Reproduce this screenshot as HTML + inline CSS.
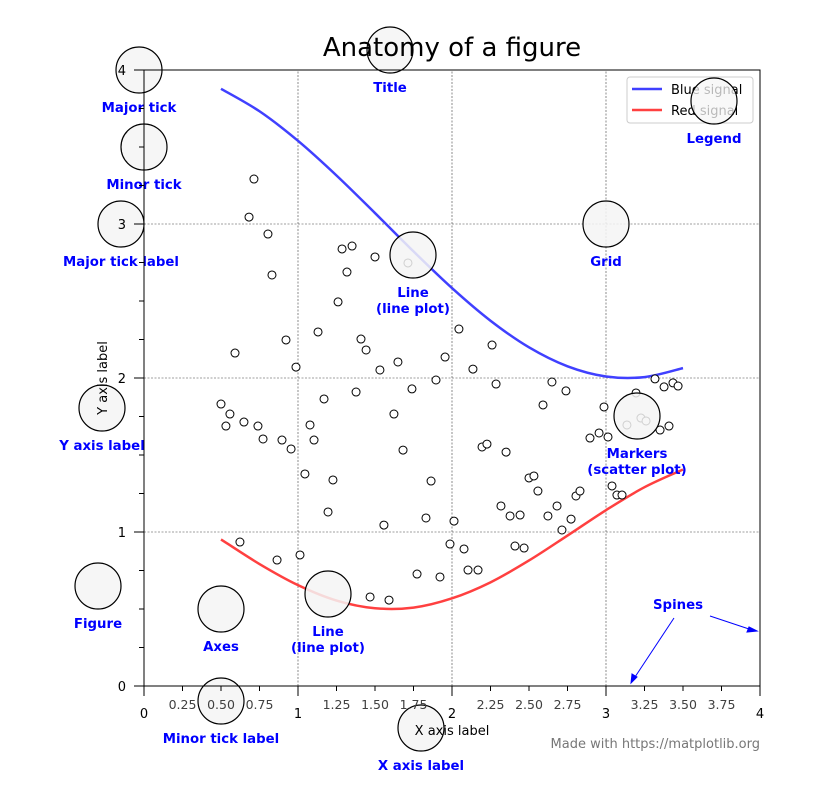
<!DOCTYPE html>
<html><head><meta charset="utf-8"><style>
body{margin:0;background:#fff;}
svg{display:block;font-family:"DejaVu Sans","Liberation Sans",sans-serif;}
.ann{fill:#0000ff;font-weight:bold;font-size:13.3px;text-anchor:middle;}
</style></head><body>
<svg id="fig" width="826" height="796" viewBox="0 0 826 796">
<rect width="826" height="796" fill="#fff"/>
<g id="grid"></g>
<g id="plot"></g>
<g id="anns"></g>
<g id="axes"></g>
<g id="legend">
 <rect x="627" y="77" width="126" height="46" rx="3" fill="#fff" fill-opacity="0.8" stroke="#ccc"/>
 <line x1="632" y1="89" x2="662" y2="89" stroke="#4040ff" stroke-width="2.5"/>
 <text x="671" y="94" font-size="13">Blue signal</text>
 <line x1="632" y1="110" x2="662" y2="110" stroke="#ff4040" stroke-width="2.5"/>
 <text x="671" y="115" font-size="13">Red signal</text>
</g>
<circle cx="714" cy="101" r="23" fill="#f5f5f5" fill-opacity="0.75" stroke="#000" stroke-width="1.2"/>
<text x="452" y="56" font-size="26" text-anchor="middle">Anatomy of a figure</text>
<text x="452" y="735" font-size="13" text-anchor="middle">X axis label</text>
<text x="0" y="0" font-size="13" text-anchor="middle" transform="translate(107,378) rotate(-90)">Y axis label</text>
<text x="760" y="748" font-size="13" fill="#777" text-anchor="end">Made with https://matplotlib.org</text>
<g stroke="#0000ff" fill="#0000ff">
 <line x1="674" y1="618" x2="633" y2="680"/><path d="M631,683 l1,-9 l5,3 z"/>
 <line x1="710" y1="616" x2="755" y2="631"/><path d="M757,631 l-8,-4 l-2,5 z"/>
</g>
</svg>
<script>
const xTicks=[0,1,2,3,4];
const xMinor=[0.25,0.5,0.75,1.25,1.5,1.75,2.25,2.5,2.75,3.25,3.5,3.75];
const xMinorLabels=["0.25","0.50","0.75","1.25","1.50","1.75","2.25","2.50","2.75","3.25","3.50","3.75"];
const yTicks=[0,1,2,3,4];
const yMinor=[0.25,0.5,0.75,1.25,1.5,1.75,2.25,2.5,2.75,3.25,3.5,3.75];
const lineX=[0.5,0.75,1.0,1.25,1.5,1.75,2.0,2.25,2.5,2.75,3.0,3.25,3.5];
const blueY=[3.878,3.732,3.540,3.315,3.071,2.822,2.584,2.372,2.199,2.076,2.010,2.006,2.064];
const redY=[0.952,0.792,0.655,0.555,0.505,0.509,0.569,0.673,0.815,0.977,1.142,1.291,1.406];
const scatX=[0.714,0.682,0.805,0.831,0.591,0.500,0.558,0.532,0.649,0.740,0.773,0.922,0.987,0.896,0.955,1.045,0.864,1.013,0.623,1.078,1.104,1.130,1.169,1.227,1.195,1.260,1.286,1.351,1.318,1.500,1.409,1.442,1.377,1.532,1.623,1.649,1.682,1.714,1.740,1.558,1.468,1.591,1.773,1.831,1.864,1.896,1.922,1.955,1.987,2.013,2.045,2.078,2.104,2.136,2.169,2.195,2.227,2.260,2.286,2.318,2.351,2.377,2.409,2.442,2.468,2.500,2.532,2.558,2.591,2.623,2.649,2.682,2.714,2.740,2.773,2.805,2.831,2.896,2.955,2.987,3.013,3.039,3.071,3.104,3.136,3.195,3.227,3.260,3.318,3.351,3.377,3.409,3.435,3.468];
const scatY=[3.292,3.045,2.935,2.669,2.162,1.831,1.766,1.688,1.714,1.688,1.604,2.247,2.071,1.597,1.539,1.377,0.818,0.851,0.935,1.695,1.597,2.299,1.864,1.338,1.130,2.494,2.838,2.857,2.688,2.786,2.253,2.182,1.909,2.052,1.766,2.104,1.532,2.747,1.929,1.045,0.578,0.558,0.727,1.091,1.331,1.987,0.708,2.136,0.922,1.071,2.318,0.890,0.753,2.058,0.753,1.552,1.571,2.214,1.961,1.169,1.519,1.104,0.909,1.110,0.896,1.351,1.364,1.266,1.825,1.104,1.974,1.169,1.013,1.916,1.084,1.234,1.266,1.610,1.643,1.812,1.617,1.299,1.240,1.240,1.695,1.903,1.740,1.721,1.994,1.662,1.942,1.688,1.968,1.948];
const annCx=[139,390,144,121,606,413,102,637,98,221,328,221,421];
const annCy=[70,50,147,224,224,255,408,416,586,609,594,701,728];
const annText=[["Major tick"],["Title"],["Minor tick"],["Major tick label"],["Grid"],["Line","(line plot)"],["Y axis label"],["Markers","(scatter plot)"],["Figure"],["Axes"],["Line","(line plot)"],["Minor tick label"],["X axis label"]];
const spineLabel="Spines";

const NS="http://www.w3.org/2000/svg";
const X0=144,X1=760,Y0=686,Y1=70;
const sx=v=>X0+(X1-X0)*v/4, sy=v=>Y0-(Y0-Y1)*v/4;
function mk(tag,attrs,parent){const e=document.createElementNS(NS,tag);for(const k in attrs)e.setAttribute(k,attrs[k]);parent.appendChild(e);return e;}
const grid=document.getElementById('grid'),plot=document.getElementById('plot'),axes=document.getElementById('axes'),anns=document.getElementById('anns');
xTicks.forEach(v=>{if(v>0&&v<4){const l=mk('line',{x1:sx(v),x2:sx(v),y1:Y0,y2:Y1,stroke:'#404040','stroke-width':0.6,'stroke-dasharray':'2,1.5'},grid);

}});
yTicks.forEach(v=>{if(v>0&&v<4){const l=mk('line',{x1:X0,x2:X1,y1:sy(v),y2:sy(v),stroke:'#404040','stroke-width':0.6,'stroke-dasharray':'2,1.5'},grid);

}});
function path(ys){const p=lineX.map((x,i)=>[sx(x),sy(ys[i])]);let d='M'+p[0][0]+','+p[0][1];
for(let i=0;i<p.length-1;i++){const a=p[Math.max(i-1,0)],b=p[i],c=p[i+1],e=p[Math.min(i+2,p.length-1)];
d+=' C'+(b[0]+(c[0]-a[0])/6)+','+(b[1]+(c[1]-a[1])/6)+' '+(c[0]-(e[0]-b[0])/6)+','+(c[1]-(e[1]-b[1])/6)+' '+c[0]+','+c[1];}return d;}
const bl=mk('path',{d:path(blueY),fill:'none',stroke:'#4040ff','stroke-width':2.5},plot);


const rl=mk('path',{d:path(redY),fill:'none',stroke:'#ff4040','stroke-width':2.5},plot);


scatX.forEach((x,i)=>{const c=mk('circle',{cx:sx(x),cy:sy(scatY[i]),r:4,fill:'#fff',stroke:'#000','stroke-width':1},plot);

});
mk('rect',{x:X0,y:Y1,width:X1-X0,height:Y0-Y1,fill:'none',stroke:'#000','stroke-width':1},axes);
xTicks.forEach(v=>{mk('line',{x1:sx(v),x2:sx(v),y1:Y0,y2:Y0+10,stroke:'#000'},axes);
const t=mk('text',{x:sx(v),y:Y0+32,'font-size':13,'text-anchor':'middle'},axes);t.textContent=String(v);

});
xMinor.forEach((v,i)=>{mk('line',{x1:sx(v),x2:sx(v),y1:Y0,y2:Y0+5,stroke:'#000'},axes);
const t=mk('text',{x:sx(v),y:Y0+23,'font-size':12.5,fill:'#404040','text-anchor':'middle'},axes);t.textContent=xMinorLabels[i];

});
yTicks.forEach(v=>{mk('line',{x1:X0-10,x2:X0,y1:sy(v),y2:sy(v),stroke:'#000'},axes);
const t=mk('text',{x:X0-18,y:sy(v)+5,'font-size':13,'text-anchor':'end'},axes);t.textContent=String(v);

});
yMinor.forEach(v=>{mk('line',{x1:X0-5,x2:X0,y1:sy(v),y2:sy(v),stroke:'#000'},axes);});
annCx.forEach((cx,i)=>{const c=mk('circle',{cx:cx,cy:annCy[i],r:23,fill:'#f5f5f5','fill-opacity':0.85,stroke:'#000','stroke-width':1.2},anns);


annText[i].forEach((s,j)=>{const t=mk('text',{x:cx,y:annCy[i]+42+j*16,class:'ann'},anns);t.textContent=s;

});});
const lg=mk('text',{x:714,y:143,class:'ann'},anns);lg.textContent="Legend";


const sp=mk('text',{x:678,y:609,class:'ann'},anns);sp.textContent=spineLabel;


</script>
</body></html>
